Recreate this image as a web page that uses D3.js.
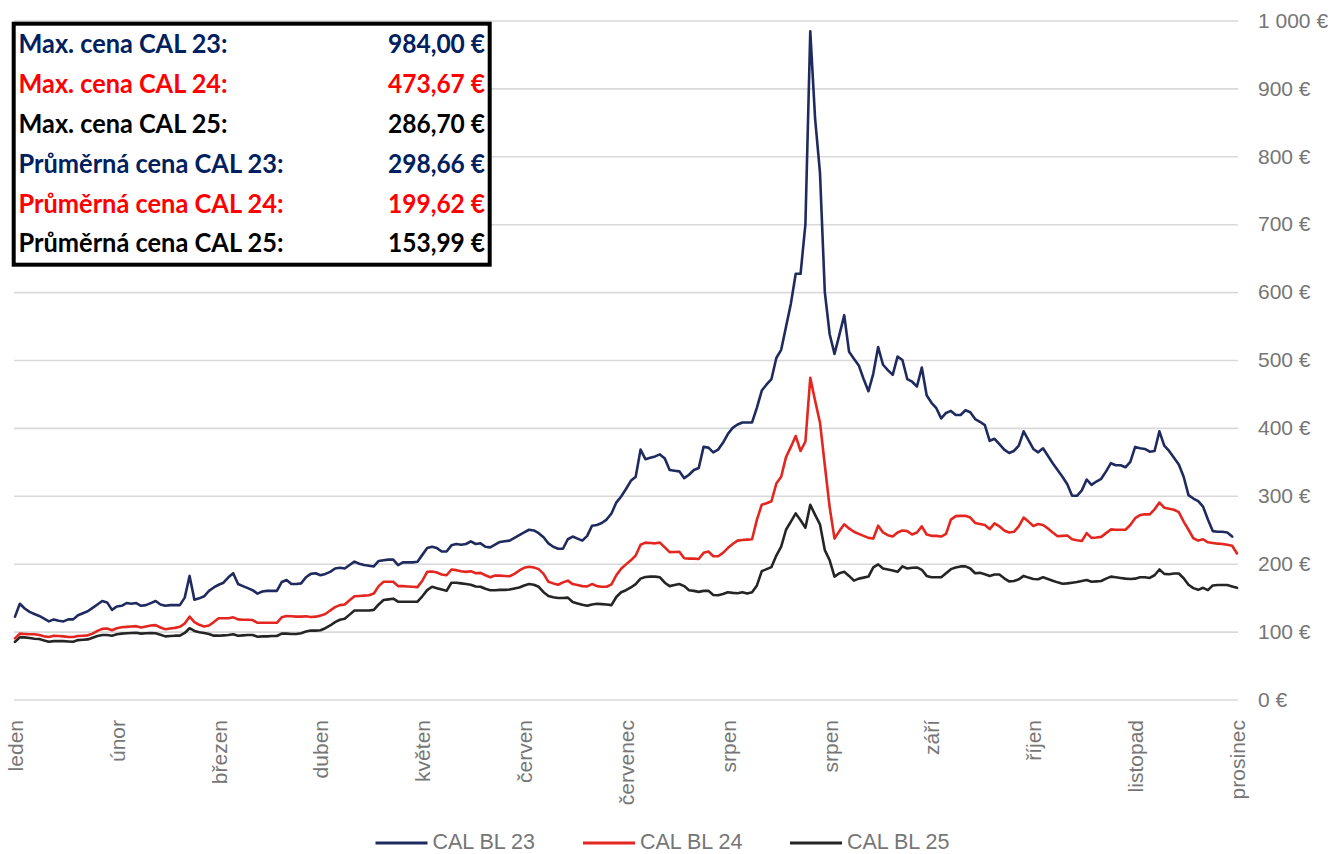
<!DOCTYPE html>
<html><head><meta charset="utf-8">
<script src="https://cdn.jsdelivr.net/npm/d3@7/dist/d3.min.js"></script>
<style>body{margin:0;background:#fff}svg{display:block}</style>
</head><body><svg id="c" width="1332" height="854"></svg>
<script>
// ---------- data ----------
const monthLabels = ["leden","únor","březen","duben","květen","červen","červenec","srpen","srpen","září","říjen","listopad","prosinec"];
const labelStep = 21; // trading days between month labels
const yTicks = [0,100,200,300,400,500,600,700,800,900,1000];
const seriesNames = ["CAL BL 23","CAL BL 24","CAL BL 25"];

const cal23 = [
122,141,134,129,126,123,119,115,118,116,
115,118,118,124,127,130,135,140,145,143,
132,137,138,142,141,142,138,139,142,145,
140,138,139,139,139,150,182,147,149,152,
160,165,169,172,180,186,170,167,164,161,
156,159,160,160,160,173,176,170,170,171,
180,185,186,183,185,188,193,194,193,198,
203,200,198,197,196,204,205,206,206,198,
202,202,202,203,213,223,225,223,218,218,
227,229,228,229,233,229,230,225,224,228,
232,233,234,238,242,246,250,249,245,239,
230,225,222,222,236,240,237,234,241,256,
257,260,265,274,290,299,310,322,328,368,
354,356,358,361,355,338,337,336,326,331,
338,341,372,371,364,368,378,391,400,405,
408,408,408,430,455,464,472,503,515,549,
583,627,627,700,984,855,776,600,538,509,
537,566,512,502,492,472,454,480,519,493,
485,478,505,500,472,468,461,489,448,437,
429,414,422,425,419,419,426,423,413,409,
404,381,384,376,368,363,366,374,395,382,
369,364,370,359,348,338,328,317,300,300,
308,324,316,321,325,336,348,345,345,342,
350,372,370,369,365,366,395,374,366,356,
346,328,301,296,292,284,265,248,247,247,
246,240];

const cal24 = [
90,97,96.5,96,96,95,93,92,94,93.5,
93,92,92,93.5,94,94.5,97,101,104,104.5,
102,105,106.5,107,107.5,108,106,107.5,109,109.5,
106,103.5,104.5,105.5,107,112,122,114,110,107.5,
109,114,119.6,119.6,119.6,121,118,117.5,117.5,117,
113,113,113,113,113,121,123,122.5,122,122,
122.5,121.5,122,123.5,126,131,136,139,140,146,
152,152.5,153,153.5,156,167,173.5,173.5,173.5,167,
167,166.5,166,165.5,175,188,188.5,187,184,183,
191.5,190.5,189,188,189,186,186.5,183,180,182.5,
182.5,182,181.5,185,190,194,195.5,194.5,192,185,
173.5,171,169,172.5,175,170,168.5,167,166.5,170,
167,166,166,169.5,183,192.5,199,205,212,228,
231,230.5,230,231,224,217,217.3,217.6,208,207.5,
207.5,207,216,218,211,211,216,223,229,234,
235,235.5,236,265,287,289,292,318,328,357,
372,388,366,380,473.67,440,408,345,283,237,
248,258,252,247,244,241,238,237,256,246,
242,240,246,249,248,243,246,255,243,241,
241,240,244,265,270,270.5,270.5,268,260,258.5,
257,251,259.5,255,249,246,247,255,268,262,
255.5,258.5,257,252,246,240.5,241,241.5,236,234.5,
233.5,245,238,238.5,239.5,245,250.5,250,250,250,
257,267,271.5,272.7,272.7,280,290,282.5,281,279.5,
276,262,250,237.5,234,236,231.5,230.5,229.5,229,
228,226.5,215];

const cal25 = [
85,91.5,91.5,90.5,89.5,89,87,85,86,86,
86,85.5,85,87.5,88,88.5,91,93.5,95,95,
94,96,97,97.5,98,98.4,97,97.5,98,97.5,
95.5,93,93.5,94,94,98,105,101,99,98,
96.5,94,94,94.5,95,96,94,94.5,95,95,
92.5,93,93,93.5,93.5,97,97,96.5,96.5,97.5,
100,101.5,101.5,102,105,109,114,117.5,119,125,
131,131,131,131,132,140,146.5,147.5,148.5,144,
144,144,144,144,152,161,166,164,162,160,
172,172,171,170,169,166.5,166,163,161,161,
161.5,161.5,162,163.5,165,168,170,169,166,158,
152.5,150.5,149.5,149.5,150,143.5,141.5,139.5,138,140,
141,140.5,140,139,151,158,161,165,170,178,
180.5,181,181,180,172,167,168.5,170,167,161,
160,158.5,160,160,154,153.5,155.5,158,157,156.5,
158,156,158,168,189,192,195,212,225,250,
262,274,264,253,286.7,272,258,220,205,181,
186,188,182,175,178,179.5,181,194.5,199,193,
191.5,190,188,196,193,194,194.5,191,182,180,
180,180,186,192,194.5,196,196,193,186,186.5,
184.5,182,184,184,178.5,174,174.5,177,182,179.5,
177.5,177,180,177.5,175,172.5,170.5,171,172,173,
174.5,176,173.5,174,174.5,178,181,180,179,178,
177.5,178,180,180,179,183,191.5,185,184.5,185.5,
185.5,178.5,169,164,161.5,164.5,161,168,168.6,168.6,
168.6,166.5,164.5];

const statLabels = ["Max. cena CAL 23:","Max. cena CAL 24:","Max. cena CAL 25:","Průměrná cena CAL 23:","Průměrná cena CAL 24:","Průměrná cena CAL 25:"];
const statValues = ["984,00 €","473,67 €","286,70 €","298,66 €","199,62 €","153,99 €"];

// ---------- drawing ----------
const svg = d3.select("#c");
const lineColors = ["#1f2b5e","#e3261f","#252525"];
const textColors = ["#002060","#ff0000","#000000"];
const axisFont = "'Liberation Sans', Arial, sans-serif";
const axisGray = "#767676";

const nDays = cal24.length;
const x = d3.scaleLinear().domain([0, nDays - 1]).range([15, 1237]);
const y = d3.scaleLinear().domain([0, 1000]).range([699.5, 20.5]);

// y axis + gridlines
const fmt = v => d3.format(",")(v).replace(/,/g, " ") + " €";
const yAxis = svg.append("g")
  .attr("transform", "translate(1238,0)")
  .call(d3.axisRight(y).tickValues(yTicks).tickSize(-(1238 - 14)).tickPadding(20).tickFormat(fmt));
yAxis.select(".domain").remove();
yAxis.selectAll(".tick line").attr("stroke", "#d9d9d9").attr("stroke-width", 1.6);
yAxis.selectAll(".tick text").attr("fill", axisGray).style("font-family", axisFont).style("font-size", "21px");

// x axis labels (rotated)
const xAxis = svg.append("g")
  .attr("transform", "translate(0,720)")
  .call(d3.axisBottom(x).tickValues(monthLabels.map((_, i) => i * labelStep)).tickSize(0).tickFormat((d, i) => monthLabels[i]));
xAxis.select(".domain").remove();
xAxis.selectAll(".tick text")
  .attr("x", 0).attr("y", 0).attr("dy", "0.35em")
  .attr("transform", "rotate(-90)")
  .attr("text-anchor", "end")
  .attr("fill", axisGray).style("font-family", axisFont).style("font-size", "21px");

// lines
const line = d3.line().x((d, i) => x(i)).y(d => y(d)).curve(d3.curveLinear);
[cal25, cal24, cal23].forEach((s, k) => {
  const idx = 2 - k;
  svg.append("path").datum(s)
    .attr("fill", "none")
    .attr("stroke", lineColors[idx])
    .attr("stroke-width", 2.6)
    .attr("stroke-linejoin", "round")
    .attr("stroke-linecap", "round")
    .attr("d", line);
});

// stats box
const box = svg.append("g");
box.append("rect").attr("x", 13.7).attr("y", 23.7).attr("width", 476).attr("height", 241)
  .attr("fill", "#fff").attr("stroke", "#000").attr("stroke-width", 4);
const labelWidths = [209, 209, 209, 265, 265, 265];
statLabels.forEach((t, i) => {
  const base = 53.3 + i * 39.8;
  box.append("text").attr("x", 18.5).attr("y", base)
    .attr("fill", textColors[i % 3])
    .attr("textLength", labelWidths[i]).attr("lengthAdjust", "spacingAndGlyphs")
    .style("font-family", "Lato, 'Open Sans', sans-serif").style("font-weight", "700").style("font-size", "27px")
    .text(t);
  box.append("text").attr("x", 388).attr("y", base)
    .attr("fill", textColors[i % 3])
    .attr("textLength", 97).attr("lengthAdjust", "spacingAndGlyphs")
    .style("font-family", "Lato, 'Open Sans', sans-serif").style("font-weight", "700").style("font-size", "27px")
    .text(statValues[i]);
});

// legend
const legX = [375.5, 583, 790];
const leg = svg.append("g");
seriesNames.forEach((n, i) => {
  leg.append("line").attr("x1", legX[i]).attr("x2", legX[i] + 52).attr("y1", 843).attr("y2", 843)
    .attr("stroke", lineColors[i]).attr("stroke-width", 3);
  leg.append("text").attr("x", legX[i] + 57).attr("y", 848.5)
    .attr("fill", axisGray).style("font-family", axisFont).style("font-size", "21.5px")
    .text(n);
});
</script>
</body></html>
